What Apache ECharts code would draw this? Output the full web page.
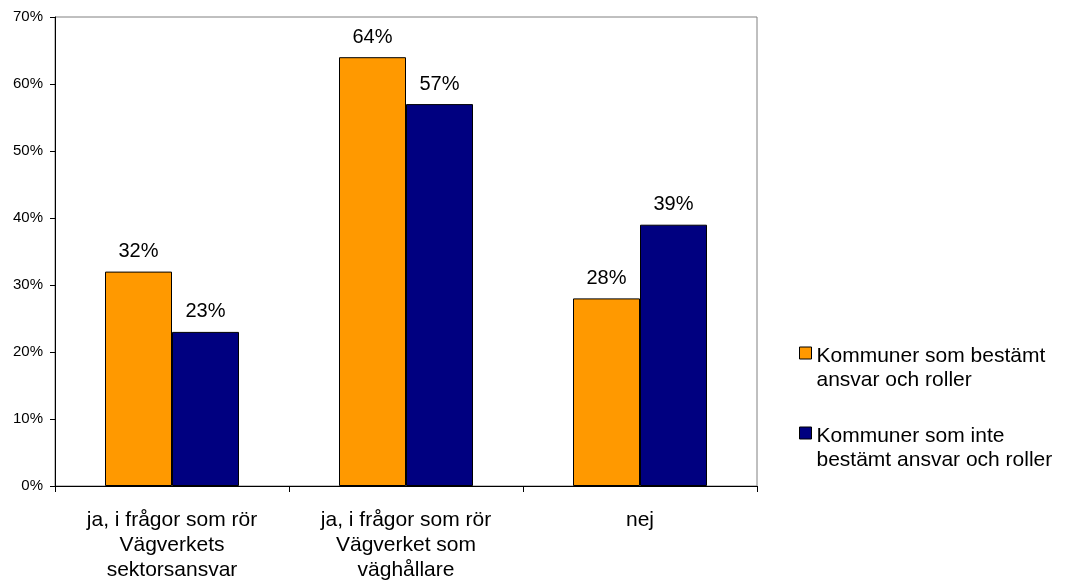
<!DOCTYPE html>
<html>
<head>
<meta charset="utf-8">
<script src="https://cdn.jsdelivr.net/npm/echarts@6/dist/echarts.min.js"></script>
<style>
  html, body { margin: 0; padding: 0; background: #fff; }
  #chart { width: 1070px; height: 583px; }
</style>
</head>
<body>
<div id="chart"></div>
<script>
// Answer categories (x axis)
const categories = [
  'ja, i frågor som rör\nVägverkets\nsektorsansvar',
  'ja, i frågor som rör\nVägverket som\nväghållare',
  'nej'
];
// Share of municipalities, percent
const bestamtValues = [32, 64, 28];
const inteBestamtValues = [23, 57, 39];
// Series names and their legend text
const seriesNames = ['Kommuner som bestämt ansvar och roller', 'Kommuner som inte bestämt ansvar och roller'];
const legendLabels = ['Kommuner som bestämt\nansvar och roller', 'Kommuner som inte\nbestämt ansvar och roller'];
// Y axis range
const yMin = 0, yMax = 70, yStep = 10;

const font = 'Liberation Sans, Arial, sans-serif';
const chart = echarts.init(document.getElementById('chart'), null, { renderer: 'canvas' });

const labelCfg = {
  show: true,
  position: 'top',
  distance: 10,
  formatter: p => p.value + '%',
  color: '#000',
  fontFamily: font,
  fontSize: 20
};

// Legend swatch: a square at the top of a taller box, so it lines up with the first text line
const swatchIcon = 'path://M0,0h10v10h-10z M0,35';

chart.setOption({
  animation: false,
  backgroundColor: '#fff',
  grid: {
    left: 55, right: 313, top: 17, bottom: 97,
    show: true, borderColor: '#808080', borderWidth: 1, backgroundColor: 'transparent'
  },
  legend: {
    orient: 'vertical',
    left: 799, top: 344,
    padding: 0,
    itemWidth: 12, itemHeight: 42,
    itemGap: 32,
    icon: swatchIcon,
    data: seriesNames,
    formatter: name => legendLabels[seriesNames.indexOf(name)],
    textStyle: { fontFamily: font, fontSize: 21, color: '#000', lineHeight: 24 },
    itemStyle: { borderColor: '#000', borderWidth: 1 }
  },
  xAxis: {
    type: 'category',
    data: categories,
    axisLine: { lineStyle: { color: '#000', width: 1 } },
    axisTick: { show: true, length: 6, lineStyle: { color: '#000' } },
    axisLabel: {
      interval: 0, margin: 22, color: '#000', fontFamily: font, fontSize: 21, lineHeight: 25
    },
    splitLine: { show: false }
  },
  yAxis: {
    type: 'value',
    min: yMin, max: yMax, interval: yStep,
    axisLine: { show: true, lineStyle: { color: '#000', width: 1 } },
    axisTick: { show: true, length: 5, lineStyle: { color: '#000' } },
    axisLabel: { formatter: v => v + '%', color: '#000', fontFamily: font, fontSize: 15, margin: 12 },
    splitLine: { show: false }
  },
  series: [
    {
      name: seriesNames[0],
      type: 'bar',
      data: bestamtValues,
      barWidth: 67,
      barGap: '0%',
      itemStyle: { color: '#FF9900', borderColor: '#000', borderWidth: 1 },
      label: labelCfg
    },
    {
      name: seriesNames[1],
      type: 'bar',
      data: inteBestamtValues,
      barWidth: 67,
      barGap: '0%',
      itemStyle: { color: '#000080', borderColor: '#000', borderWidth: 1 },
      label: labelCfg
    }
  ]
});
</script>
</body>
</html>
